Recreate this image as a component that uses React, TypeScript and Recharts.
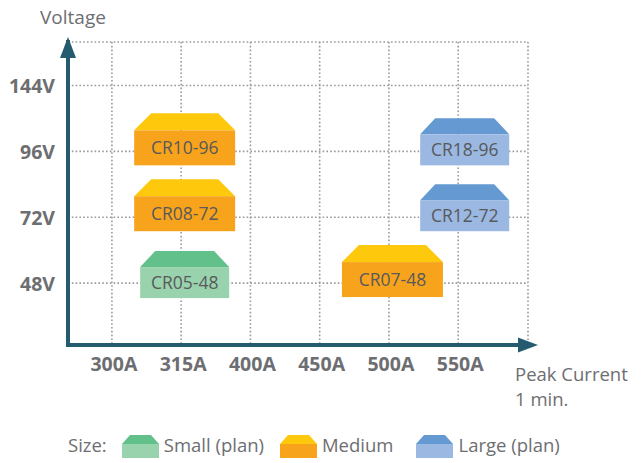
import React from 'react';
import {
  ScatterChart,
  Scatter,
  XAxis,
  YAxis,
  CartesianGrid,
  ReferenceDot,
} from 'recharts';

// ---- data ----
const currentCategories = ['300A', '315A', '400A', '450A', '500A', '550A'];
const voltageCategories = ['48V', '72V', '96V', '144V'];

const productNames = ['CR10-96', 'CR08-72', 'CR05-48', 'CR07-48', 'CR18-96', 'CR12-72'];
const productCurrent = ['315A', '315A', '315A', '500A', '550A', '550A'];
const productVoltage = ['96V', '72V', '48V', '48V', '96V', '72V'];
const productSize = ['Medium', 'Medium', 'Small', 'Medium', 'Large', 'Large'];

const sizeLegend = [
  { key: 'Small', label: 'Small (plan)' },
  { key: 'Medium', label: 'Medium' },
  { key: 'Large', label: 'Large (plan)' },
];

// ---- styles ----
const FONT = '"Open Sans", "Noto Sans", sans-serif';
const TEXT = '#6d6e71';
const AXIS = '#255b6e';
const sizeColors: Record<string, { top: string; body: string }> = {
  Small: { top: '#62c08b', body: '#99d3ad' },
  Medium: { top: '#fec90c', body: '#f8a31c' },
  Large: { top: '#6599d2', body: '#9ab8e1' },
};
const sizeDims: Record<string, { w: number; h: number; t: number; inset: number; dx: number; top: number }> = {
  Small: { w: 89, h: 31, t: 16, inset: 15, dx: 3.5, top: -16 },
  Medium: { w: 101, h: 35, t: 17, inset: 17, dx: 3.5, top: -21 },
  Large: { w: 89, h: 31, t: 16, inset: 15, dx: 6.5, top: -17 },
};

const chartData = productNames.map((name, i) => ({
  x: currentCategories.indexOf(productCurrent[i]),
  y: voltageCategories.indexOf(productVoltage[i]),
  name,
  size: productSize[i],
}));

const ProductBox = (props: any) => {
  const { cx, cy, payload } = props;
  if (cx == null || cy == null) return null;
  const d = sizeDims[payload.size];
  const c = sizeColors[payload.size];
  const left = cx + d.dx - d.w / 2;
  const right = left + d.w;
  const rectTop = cy + d.top;
  const trapTop = rectTop - d.t;
  return (
    <g>
      <polygon
        points={`${left},${rectTop} ${left + d.inset},${trapTop} ${right - d.inset},${trapTop} ${right},${rectTop}`}
        fill={c.top}
      />
      <rect x={left} y={rectTop} width={d.w} height={d.h} fill={c.body} />
      <text
        x={left + d.w / 2}
        y={rectTop + d.h / 2 + 6}
        textAnchor="middle"
        fontFamily={FONT}
        fontSize={17.5}
        fill="#58595b"
      >
        {payload.name}
      </text>
    </g>
  );
};

const XTick = (props: any) => {
  const { x, y, payload } = props;
  return (
    <text x={x + 2} y={y + 18} textAnchor="middle" fontFamily={FONT} fontWeight="bold" fontSize={19.5} fill={TEXT}>
      {currentCategories[payload.value]}
    </text>
  );
};

const YTick = (props: any) => {
  const { x, y, payload } = props;
  return (
    <text x={x} y={y + 8} dx={-5} textAnchor="end" fontFamily={FONT} fontWeight="bold" fontSize={19.5} fill={TEXT}>
      {voltageCategories[payload.value]}
    </text>
  );
};

const XArrow = (props: any) => {
  const { cx, cy } = props;
  return <polygon points={`${cx - 10},${cy - 7.5} ${cx + 10},${cy} ${cx - 10},${cy + 7.5}`} fill={AXIS} />;
};
const YArrow = (props: any) => {
  const { cx, cy } = props;
  return <polygon points={`${cx - 8},${cy + 16} ${cx},${cy - 5} ${cx + 8},${cy + 16}`} fill={AXIS} />;
};

const X_DOMAIN: [number, number] = [-0.634, 6.008];
const Y_DOMAIN: [number, number] = [-0.94, 3.66];

const LegendIcon = ({ size }: { size: string }) => {
  const c = sizeColors[size];
  return (
    <svg width={37} height={23} style={{ display: 'block' }}>
      <polygon points="0,9 8,0 29,0 37,9" fill={c.top} />
      <rect x={0} y={9} width={37} height={14} fill={c.body} />
    </svg>
  );
};

export default function App() {
  return (
    <div style={{ position: 'absolute', left: 0, top: 0, width: 642, height: 463, background: '#fff' }}>
      <ScatterChart width={642} height={463} margin={{ top: 42, right: 114, bottom: 88, left: 8 }}>
        <CartesianGrid stroke="#9a9a9a" strokeWidth={1.6} strokeDasharray="1.6 2.2" />
        <XAxis
          type="number"
          dataKey="x"
          domain={X_DOMAIN}
          ticks={currentCategories.map((_, i) => i)}
          tick={<XTick />}
          tickLine={false}
          height={30}
          axisLine={{ stroke: AXIS, strokeWidth: 4 }}
          allowDataOverflow
          label={{
            content: (p: any) => {
              const vb = p.viewBox;
              return (
                <g>
                  <text x={vb.x + vb.width - 13} y={vb.y + 36} fontFamily={FONT} fontSize={18.5} fill={TEXT}>
                    Peak Current
                  </text>
                  <text x={vb.x + vb.width - 13} y={vb.y + 61} fontFamily={FONT} fontSize={18.5} fill={TEXT}>
                    1 min.
                  </text>
                </g>
              );
            },
          }}
        />
        <YAxis
          type="number"
          dataKey="y"
          domain={Y_DOMAIN}
          ticks={voltageCategories.map((_, i) => i)}
          tick={<YTick />}
          tickLine={false}
          width={60}
          axisLine={{ stroke: AXIS, strokeWidth: 4, strokeLinecap: 'square' }}
          allowDataOverflow
          label={{
            content: (p: any) => {
              const vb = p.viewBox;
              return (
                <text x={vb.x + 32} y={vb.y - 18} fontFamily={FONT} fontSize={19} fill={TEXT}>
                  Voltage
                </text>
              );
            },
          }}
        />
        <ReferenceDot x={X_DOMAIN[1]} y={Y_DOMAIN[0]} ifOverflow="visible" shape={<XArrow />} />
        <ReferenceDot x={X_DOMAIN[0]} y={Y_DOMAIN[1]} ifOverflow="visible" shape={<YArrow />} />
        <Scatter data={chartData} isAnimationActive={false} shape={<ProductBox />} />
      </ScatterChart>
      <div
        style={{
          position: 'absolute',
          left: 68,
          top: 432,
          display: 'flex',
          alignItems: 'center',
          fontFamily: FONT,
          fontSize: 18.5,
          color: TEXT,
          whiteSpace: 'nowrap',
          lineHeight: '26px',
        }}
      >
        <span style={{ marginRight: 15 }}>Size:</span>
        {sizeLegend.map((s, i) => (
          <span key={s.key} style={{ display: 'flex', alignItems: 'center', marginRight: i === 0 ? 16 : 23 }}>
            <span style={{ marginRight: 5, marginTop: 2 }}>
              <LegendIcon size={s.key} />
            </span>
            <span>{s.label}</span>
          </span>
        ))}
      </div>
    </div>
  );
}
